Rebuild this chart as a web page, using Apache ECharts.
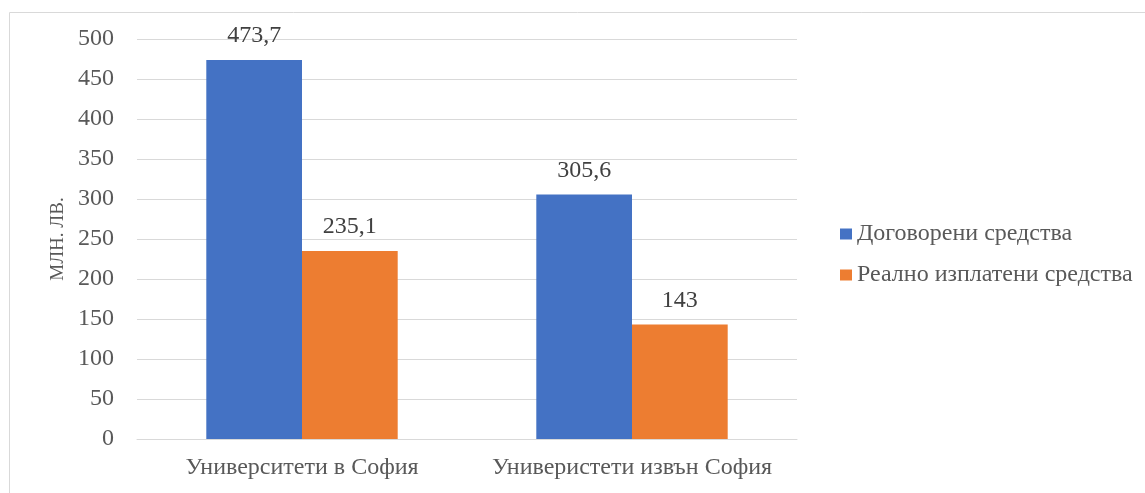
<!DOCTYPE html>
<html>
<head>
<meta charset="utf-8">
<script src="https://cdn.jsdelivr.net/npm/echarts@6/dist/echarts.min.js"></script>
<style>
html,body{margin:0;padding:0;background:#fff;}
#chart{width:1145px;height:493px;}
</style>
</head>
<body>
<div id="chart"></div>
<script>
var categories = ['Университети в София', 'Универистети извън София'];
var seriesNames = ['Договорени средства', 'Реално изплатени средства'];
var contracted = [473.7, 305.6];
var paid = [235.1, 143];
var axisName = 'МЛН. ЛВ.';

var FF = 'Liberation Serif';
var chart = echarts.init(document.getElementById('chart'));
function fmt(p){ return String(p.value).replace('.', ','); }
chart.setOption({
  animation: false,
  graphic: [{
    type: 'rect', left: 7, top: 10, silent: true,
    shape: { width: 1200, height: 600 },
    style: { fill: 'none', stroke: '#d9d9d9', lineWidth: 1 }
  }],
  grid: { left: 137, right: 348, top: 39, bottom: 54 },
  legend: {
    orient: 'vertical', left: 840, top: 222, padding: 0, itemGap: 17,
    itemWidth: 12, itemHeight: 11, icon: 'rect',
    textStyle: { fontFamily: FF, fontSize: 24, color: '#595959' },
    data: seriesNames
  },
  xAxis: {
    type: 'category', data: categories,
    axisLine: { lineStyle: { color: '#d9d9d9' } },
    axisTick: { show: false },
    axisLabel: { interval: 0, hideOverlap: false, fontFamily: FF, fontSize: 24, color: '#595959', margin: 17 }
  },
  yAxis: {
    type: 'value', min: 0, max: 500, interval: 50,
    name: axisName, nameLocation: 'middle', nameGap: 66,
    nameTextStyle: { fontFamily: FF, fontSize: 19, color: '#595959' },
    axisLine: { show: false }, axisTick: { show: false },
    axisLabel: { fontFamily: FF, fontSize: 24, color: '#595959', margin: 23 },
    splitLine: { lineStyle: { color: '#d9d9d9' } }
  },
  series: [{
    name: seriesNames[0], type: 'bar', data: contracted,
    barGap: '0%', barCategoryGap: '42%',
    itemStyle: { color: '#4472c4' },
    label: { show: true, position: 'top', distance: 12, formatter: fmt, fontFamily: FF, fontSize: 24, color: '#404040' }
  }, {
    name: seriesNames[1], type: 'bar', data: paid,
    barGap: '0%', barCategoryGap: '42%',
    itemStyle: { color: '#ed7d31' },
    label: { show: true, position: 'top', distance: 12, formatter: fmt, fontFamily: FF, fontSize: 24, color: '#404040' }
  }]
});
</script>
</body>
</html>
